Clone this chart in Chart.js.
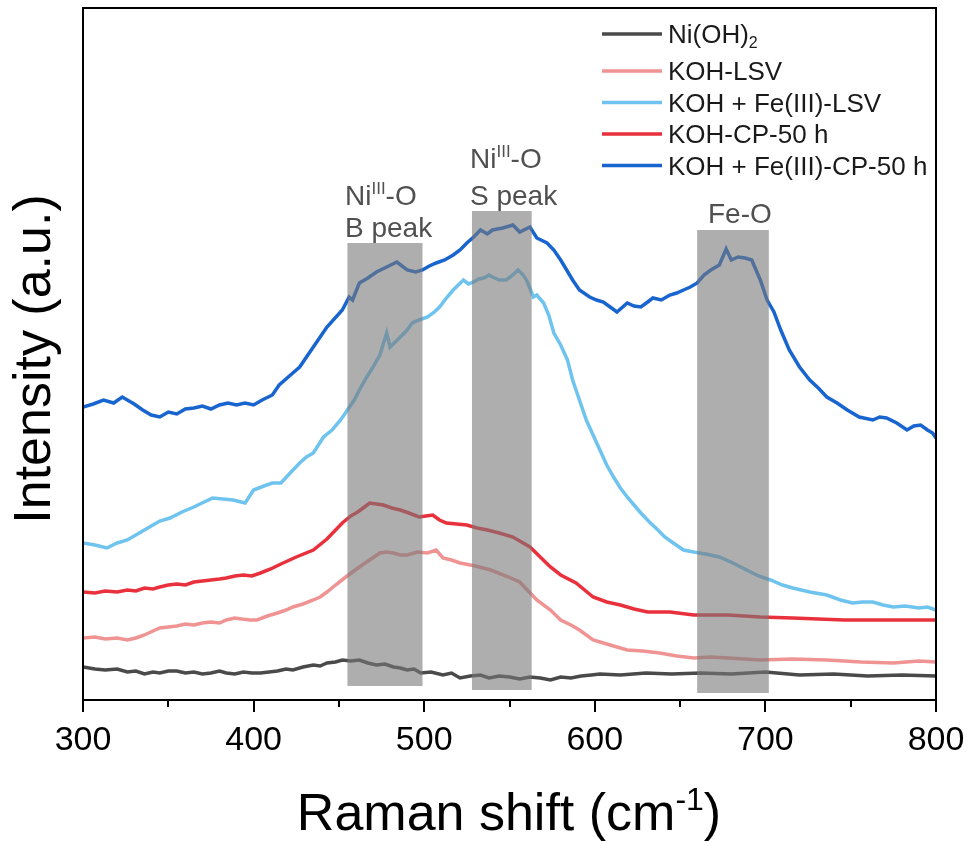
<!DOCTYPE html>
<html>
<head>
<meta charset="utf-8">
<script src="https://cdn.jsdelivr.net/npm/chart.js@4.4.0/dist/chart.umd.min.js"></script>
<style>
  html, body { margin: 0; background: #fff; }
  canvas { display: block; }
</style>
</head>
<body>
<canvas id="ramanChart" width="968" height="841"></canvas>
<script>
// legend labels: _{..} subscript, ^{..} superscript
const seriesNames = ['Ni(OH)_{2}', 'KOH-LSV', 'KOH + Fe(III)-LSV', 'KOH-CP-50 h', 'KOH + Fe(III)-CP-50 h'];
const seriesColors = ['#4a4a4a', '#f09393', '#6fc3ef', '#e8313c', '#1865d0'];

// Raman shift (cm-1) and intensity (a.u., offset stacked)
const niX = [300, 307, 313, 320, 326, 331, 336, 341, 345, 350, 355, 360, 365, 370, 375, 380, 384, 389, 394, 399, 404, 409, 414, 419, 423, 429, 435, 439, 443, 448, 452, 457, 462, 467, 472, 477, 482, 486, 490, 494, 498, 504, 511, 516, 521, 527, 533, 538, 544, 550, 556, 562, 568, 574, 580, 586, 592, 598, 603, 615, 630, 645, 662, 680, 700, 720, 740, 760, 780, 800];
const niY = [33, 31, 30, 31, 28, 29, 26, 28, 27, 29, 29, 27, 28, 26, 27, 29, 27, 26, 28, 27, 27, 28, 29, 31, 30, 33, 35, 34, 37, 38, 40, 39, 40, 37, 35, 36, 33, 32, 30, 31, 27, 28, 25, 27, 22, 24, 25, 22, 24, 23, 21, 23, 22, 20, 23, 22, 24, 25, 26, 25, 27, 26, 27, 26, 28, 25, 26, 24, 25, 24];

const lsvX = [300, 307, 313, 320, 326, 331, 336, 341, 345, 350, 355, 360, 365, 370, 375, 380, 384, 389, 393, 398, 402, 408, 414, 419, 423, 429, 435, 439, 443, 448, 454, 458, 462, 468, 474, 478, 482, 486, 490, 496, 502, 507, 511, 516, 521, 530, 539, 548, 556, 566, 574, 580, 586, 591, 599, 609, 619, 628, 638, 648, 658, 668, 678, 697, 716, 736, 756, 775, 790, 800];
const lsvY = [62, 63, 61, 62, 60, 62, 65, 69, 72, 73, 74, 76, 75, 77, 78, 77, 80, 82, 81, 80, 80, 84, 87, 90, 93, 96, 100, 103, 108, 115, 123, 128, 133, 140, 147, 148, 147, 145, 145, 148, 147, 150, 142, 140, 137, 134, 130, 124, 118, 100, 90, 80, 75, 70, 60, 55, 50, 49, 47, 44, 42, 43, 42, 40, 41, 40, 38, 37, 39, 38];

const feLsvX = [300, 307, 314, 320, 326, 333, 339, 345, 351, 358, 365, 371, 376, 382, 388, 395, 400, 406, 411, 416, 422, 427, 431, 435, 441, 446, 451, 455, 459, 462, 466, 470, 474, 478, 480, 483, 486, 490, 493, 497, 502, 506, 509, 513, 517, 520, 523, 526, 529, 532, 535, 538, 540, 544, 548, 552, 555, 558, 560, 564, 566, 570, 573, 576, 580, 584, 587, 591, 595, 599, 603, 607, 611, 615, 619, 623, 627, 632, 637, 641, 646, 652, 658, 665, 673, 681, 689, 696, 703, 710, 716, 726, 736, 744, 751, 757, 763, 769, 775, 782, 790, 795, 800];
const feLsvY = [157, 155, 152, 157, 160, 167, 173, 179, 182, 188, 193, 198, 202, 201, 200, 197, 210, 214, 217, 217, 228, 237, 243, 247, 263, 270, 280, 290, 300, 310, 322, 333, 345, 367, 353, 358, 363, 370, 377, 380, 383, 388, 393, 402, 410, 415, 420, 416, 418, 421, 422, 425, 423, 420, 420, 425, 430, 425, 420, 403, 405, 397, 385, 367, 355, 340, 320, 300, 280, 265, 250, 235, 223, 212, 203, 195, 187, 178, 170, 163, 157, 150, 148, 146, 143, 137, 130, 124, 120, 115, 112, 108, 105, 100, 97, 98, 98, 95, 93, 94, 92, 93, 90];

const cpX = [300, 307, 313, 320, 326, 331, 336, 341, 345, 350, 355, 360, 365, 370, 375, 380, 384, 389, 394, 399, 404, 410, 416, 425, 435, 443, 452, 457, 461, 465, 468, 472, 476, 481, 486, 491, 497, 501, 505, 509, 513, 519, 525, 531, 537, 544, 552, 557, 562, 568, 574, 580, 589, 599, 607, 615, 623, 631, 644, 658, 678, 697, 716, 746, 775, 800];
const cpY = [108, 107, 109, 108, 110, 109, 112, 111, 113, 115, 116, 115, 118, 119, 120, 121, 122, 124, 125, 124, 127, 131, 136, 143, 150, 161, 177, 184, 188, 193, 197, 196, 195, 192, 190, 187, 183, 184, 185, 180, 177, 176, 175, 172, 170, 167, 163, 158, 153, 143, 133, 125, 117, 103, 98, 95, 91, 88, 88, 85, 85, 83, 82, 80, 80, 80];

const feCpX = [300, 306, 312, 318, 323, 330, 335, 340, 345, 350, 355, 360, 365, 370, 375, 380, 385, 390, 395, 400, 405, 411, 415, 423, 427, 435, 443, 452, 456, 458, 462, 467, 472, 478, 484, 490, 495, 499, 503, 507, 512, 517, 521, 525, 529, 533, 537, 540, 546, 552, 556, 562, 566, 572, 576, 580, 587, 591, 597, 601, 605, 609, 613, 619, 623, 627, 631, 634, 639, 644, 648, 652, 656, 660, 664, 668, 673, 677, 680, 684, 688, 692, 697, 701, 705, 709, 714, 720, 726, 731, 736, 742, 748, 755, 763, 767, 771, 777, 783, 787, 791, 795, 798, 800];
const feCpY = [293, 296, 300, 297, 303, 296, 290, 285, 283, 288, 286, 291, 292, 294, 291, 295, 297, 295, 297, 295, 300, 305, 315, 327, 333, 353, 373, 390, 403, 400, 417, 422, 428, 433, 438, 430, 428, 430, 434, 437, 440, 445, 450, 457, 463, 470, 466, 470, 472, 475, 468, 473, 462, 457, 450, 440, 420, 410, 403, 400, 398, 393, 388, 397, 394, 393, 398, 402, 400, 405, 407, 410, 413, 417, 425, 430, 435, 451, 440, 443, 442, 440, 420, 400, 388, 370, 350, 333, 320, 312, 303, 297, 290, 283, 280, 283, 282, 277, 270, 274, 275, 270, 267, 262];

// shaded peak regions
const bandFrom = [455, 528, 660];
const bandTo = [499, 563, 702];
const bandTop = [457, 489, 470];
const bandBottom = [14, 10, 7];
const bandLabels = [['Ni^{III}-O', 'B peak'], ['Ni^{III}-O', 'S peak'], ['Fe-O']];

const xTicks = [300, 400, 500, 600, 700, 800];
const xMinorTicks = [350, 450, 550, 650, 750];

const FONT = '"Liberation Sans", Arial, sans-serif';

function zip(xs, ys) {
    return xs.map((x, i) => ({ x: x, y: ys[i] }));
}

// split "Ni^{III}-O" into plain / sup / sub pieces
function parseRich(text) {
    const parts = [];
    const re = /([_^])\{([^}]*)\}/g;
    let last = 0, m;
    while ((m = re.exec(text)) !== null) {
        if (m.index > last) parts.push({ t: text.slice(last, m.index), mode: 'n' });
        parts.push({ t: m[2], mode: m[1] === '^' ? 'sup' : 'sub' });
        last = re.lastIndex;
    }
    if (last < text.length) parts.push({ t: text.slice(last), mode: 'n' });
    return parts;
}

function drawRich(ctx, text, x, y, size, align) {
    const parts = parseRich(text);
    const small = Math.round(size * 0.62);
    let total = 0;
    parts.forEach(p => {
        ctx.font = (p.mode === 'n' ? size : small) + 'px ' + FONT;
        p.w = ctx.measureText(p.t).width;
        total += p.w;
    });
    let cx = align === 'center' ? x - total / 2 : x;
    ctx.textAlign = 'left';
    ctx.textBaseline = 'alphabetic';
    parts.forEach(p => {
        ctx.font = (p.mode === 'n' ? size : small) + 'px ' + FONT;
        let dy = 0;
        if (p.mode === 'sup') dy = -size * 0.38;
        if (p.mode === 'sub') dy = size * 0.2;
        ctx.fillText(p.t, cx, y + dy);
        cx += p.w;
    });
}

const decorPlugin = {
    id: 'decor',
    afterDatasetsDraw(chart) {
        const ctx = chart.ctx;
        const xs = chart.scales.x, ys = chart.scales.y;
        ctx.save();
        // gray bands over the curves
        ctx.fillStyle = 'rgba(120,120,120,0.6)';
        bandFrom.forEach((b, i) => {
            const l = xs.getPixelForValue(b), r = xs.getPixelForValue(bandTo[i]);
            const t = ys.getPixelForValue(bandTop[i]), bt = ys.getPixelForValue(bandBottom[i]);
            ctx.fillRect(l, t, r - l, bt - t);
        });
        // band labels
        ctx.fillStyle = '#505050';
        const labelPos = [[345, [205, 237]], [470, [168, 205]], [708, [223]]];
        bandLabels.forEach((lines, i) => {
            lines.forEach((line, j) => {
                drawRich(ctx, line, labelPos[i][0], labelPos[i][1][j], 28, 'left');
            });
        });
        ctx.restore();
    },
    afterDraw(chart) {
        const ctx = chart.ctx;
        const a = chart.chartArea;
        const xs = chart.scales.x;
        ctx.save();
        ctx.strokeStyle = '#000';
        ctx.lineWidth = 2;
        ctx.strokeRect(a.left, a.top, a.right - a.left, a.bottom - a.top);
        // major / minor ticks and tick labels of the x scale
        ctx.beginPath();
        xTicks.forEach(v => {
            const px = Math.round(xs.getPixelForValue(v));
            ctx.moveTo(px, a.bottom);
            ctx.lineTo(px, a.bottom + 12);
        });
        xMinorTicks.forEach(v => {
            const px = Math.round(xs.getPixelForValue(v));
            ctx.moveTo(px, a.bottom);
            ctx.lineTo(px, a.bottom + 7);
        });
        ctx.stroke();
        ctx.fillStyle = '#000';
        ctx.font = '34px ' + FONT;
        ctx.textAlign = 'center';
        ctx.textBaseline = 'alphabetic';
        xTicks.forEach(v => {
            ctx.fillText(String(v), xs.getPixelForValue(v), a.bottom + 50);
        });
        // legend
        const rows = [34, 71, 102.5, 134, 165.5];
        seriesNames.forEach((name, i) => {
            ctx.strokeStyle = seriesColors[i];
            ctx.lineWidth = 3.5;
            ctx.beginPath();
            ctx.moveTo(602, rows[i]);
            ctx.lineTo(662, rows[i]);
            ctx.stroke();
            ctx.fillStyle = '#1a1a1a';
            drawRich(ctx, name, 668, rows[i] + 9, 26, 'left');
        });
        // axis titles
        ctx.fillStyle = '#000';
        drawRich(ctx, 'Raman shift (cm^{-1})', 509, 830, 52, 'center');
        ctx.translate(50, 359);
        ctx.rotate(-Math.PI / 2);
        ctx.font = '52px ' + FONT;
        ctx.textAlign = 'center';
        ctx.textBaseline = 'alphabetic';
        ctx.fillText('Intensity (a.u.)', 0, 0);
        ctx.restore();
    }
};

const seriesData = [zip(niX, niY), zip(lsvX, lsvY), zip(feLsvX, feLsvY), zip(cpX, cpY), zip(feCpX, feCpY)];

const ctx = document.getElementById('ramanChart').getContext('2d');
new Chart(ctx, {
    type: 'line',
    data: {
        datasets: seriesNames.map((name, i) => ({
            label: name,
            data: seriesData[i],
            borderColor: seriesColors[i],
            borderWidth: 3.5,
            pointRadius: 0,
            tension: 0,
            fill: false
        }))
    },
    options: {
        responsive: false,
        animation: false,
        layout: { padding: { left: 83, right: 32, top: 8, bottom: 141 } },
        plugins: {
            legend: { display: false },
            tooltip: { enabled: false }
        },
        scales: {
            x: { type: 'linear', display: false, min: 300, max: 800 },
            y: { display: false, min: 0, max: 692 }
        }
    },
    plugins: [decorPlugin]
});
</script>
</body>
</html>
